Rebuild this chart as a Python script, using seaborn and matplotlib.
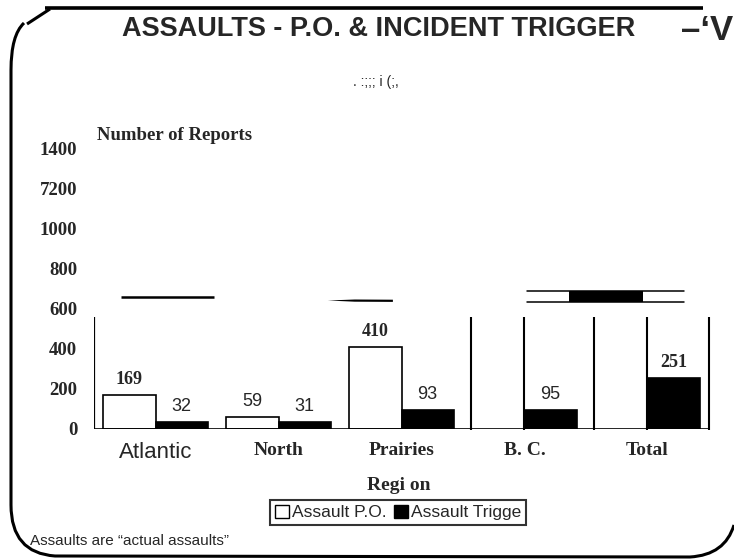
import matplotlib
matplotlib.use("Agg")
import matplotlib.pyplot as plt
import seaborn as sns
import pandas as pd
from matplotlib.patches import Patch, PathPatch, Rectangle
from matplotlib.path import Path

# ---------------- data ----------------
regions = ["Atlantic", "North", "Prairies", "B. C.", "Total"]
series = ["Assault P.O.", "Assault Trigge"]
assault_po = [169, 59, 410, None, None]
assault_trigger = [32, 31, 93, 95, 251]
ytick_values = [0, 200, 400, 600, 800, 1000, 1200, 1400]
ytick_labels = ["0", "200", "400", "600", "800", "1000", "7200", "1400"]

rows = []
for r, v in zip(regions, assault_po):
    if v is not None:
        rows.append({"Region": r, "Series": series[0], "Reports": v})
for r, v in zip(regions, assault_trigger):
    if v is not None:
        rows.append({"Region": r, "Series": series[1], "Reports": v})
df = pd.DataFrame(rows)

# labels printed in bold serif in the original (others are plain sans)
bold_labels = {(series[0], "Atlantic"), (series[0], "Prairies"), (series[1], "Total")}

# ---------------- style ----------------
sns.set_theme(style="white")
plt.rcParams["font.family"] = ["Liberation Serif", "DejaVu Sans"]

SERIF_B = dict(family=["Liberation Serif", "DejaVu Serif"], weight="bold")
SANS = dict(family=["Liberation Sans", "DejaVu Sans"])
SANS_B = dict(family=["Liberation Sans", "DejaVu Sans"], weight="bold")

W, H = 734, 560
fig = plt.figure(figsize=(W / 100, H / 100), dpi=100)

# overlay for the scanned page frame
ov = fig.add_axes([0, 0, 1, 1], zorder=0)
ov.set_xlim(0, W)
ov.set_ylim(H, 0)
ov.axis("off")
ov.patch.set_alpha(0)

ov.plot([45, 703], [7.5, 7.5], color="black", lw=2.6, solid_capstyle="butt")
verts = [(50, 9), (27, 24), (24, 23), (11, 35), (11, 70), (11, 505),
         (11, 553), (55, 556), (690, 557), (725, 555), (734, 525)]
codes = [Path.MOVETO, Path.LINETO, Path.MOVETO, Path.CURVE3, Path.CURVE3,
         Path.LINETO, Path.CURVE3, Path.CURVE3, Path.LINETO, Path.CURVE3, Path.CURVE3]
ov.add_patch(PathPatch(Path(verts, codes), fill=False, lw=2.2, edgecolor="black"))

# ---------------- main axes ----------------
ax = fig.add_axes([94 / W, 1 - 428.5 / H, 615 / W, 280 / H], zorder=1)
ax.patch.set_alpha(0)
sns.barplot(data=df, x="Region", y="Reports", hue="Series", order=regions,
            hue_order=series, palette=["white", "black"], edgecolor="black",
            linewidth=1.2, width=0.85, errorbar=None, legend=False,
            saturation=1, ax=ax)
ax.set_xlim(-0.5, 4.5)
ax.set_ylim(0, 1400)
for s in ax.spines.values():
    s.set_visible(False)
ax.tick_params(axis="both", length=0)

ax.set_yticks(ytick_values)
ax.set_yticklabels(ytick_labels, fontsize=13.5, **SERIF_B)
ax.tick_params(axis="y", pad=12)
ax.set_xticks(range(len(regions)))
ax.set_xticklabels(regions)
ax.tick_params(axis="x", pad=10)
for i, lab in enumerate(ax.get_xticklabels()):
    if i == 0:
        lab.set_fontfamily(["Liberation Sans", "DejaVu Sans"])
        lab.set_fontweight("normal")
        lab.set_fontsize(16)
    else:
        lab.set_fontfamily(["Liberation Serif", "DejaVu Serif"])
        lab.set_fontweight("bold")
        lab.set_fontsize(14)
ax.set_xlabel("")
ax.set_ylabel("")

# value labels
for cont, name in zip(ax.containers, series):
    for bar in cont:
        h = bar.get_height()
        if h != h or h == 0:
            continue
        xc = bar.get_x() + bar.get_width() / 2
        idx = int(round(xc))
        props = SERIF_B if (name, regions[idx]) in bold_labels else SANS
        ax.annotate(f"{int(h)}", (xc, h), xytext=(0, 5), textcoords="offset points",
                    ha="center", va="bottom", fontsize=13, **props)

# axis lines and scan artifacts
ax.plot([-0.5, -0.5], [0, 557], color="black", lw=1.6, solid_capstyle="butt")
ax.plot([-0.5, 4.5], [0, 0], color="black", lw=1.2)
for xv in [2.565, 2.996, 3.565, 3.996, 4.5]:
    ax.plot([xv, xv], [-8, 557], color="black", lw=1.5, solid_capstyle="butt",
            clip_on=False)
ax.plot([-0.28, 0.476], [657, 657], color="black", lw=1.8, solid_capstyle="butt")
ax.fill([1.40, 1.62, 1.93, 1.93, 1.62], [640, 645, 644, 633, 634], color="black", lw=0)
ax.plot([3.02, 4.30], [689, 689], color="black", lw=1.1)
ax.plot([3.02, 4.30], [634, 634], color="black", lw=1.1)
ax.add_patch(Rectangle((3.36, 634), 0.60, 55, color="black", lw=0))

# ---------------- texts ----------------
fig.text(379 / W, 1 - 29 / H, "ASSAULTS - P.O. & INCIDENT TRIGGER",
         ha="center", va="center", fontsize=19.5, **SANS_B)
fig.text(681 / W, 1 - 30 / H, "\u2013\u2018V", ha="left", va="center",
         fontsize=25, **SANS_B)
fig.text(376 / W, 1 - 82 / H, ". :;;; i (;,", ha="center", va="center",
         fontsize=10, **SANS)
fig.text(97 / W, 1 - 135 / H, "Number of Reports", ha="left", va="center",
         fontsize=13.5, **SERIF_B)
fig.text(399 / W, 1 - 485 / H, "Regi on", ha="center", va="center",
         fontsize=14, **SERIF_B)
fig.text(30 / W, 1 - 541 / H, "Assaults are \u201cactual assaults\u201d",
         ha="left", va="center", fontsize=11, **SANS)

handles = [Patch(facecolor="white", edgecolor="black", lw=1),
           Patch(facecolor="black", edgecolor="black", lw=1)]
leg = fig.legend(handles, series, loc="center", bbox_to_anchor=(398 / W, 1 - 512.5 / H),
                 ncol=2, frameon=True, fancybox=False, edgecolor="black",
                 handlelength=0.8, handleheight=0.8, handletextpad=0.2,
                 columnspacing=0.4, borderpad=0.25, borderaxespad=0,
                 prop=dict(family=["Liberation Sans", "DejaVu Sans"], size=12.5))
leg.get_frame().set_linewidth(1.5)

fig.savefig("out.png", dpi=100, facecolor="white")
